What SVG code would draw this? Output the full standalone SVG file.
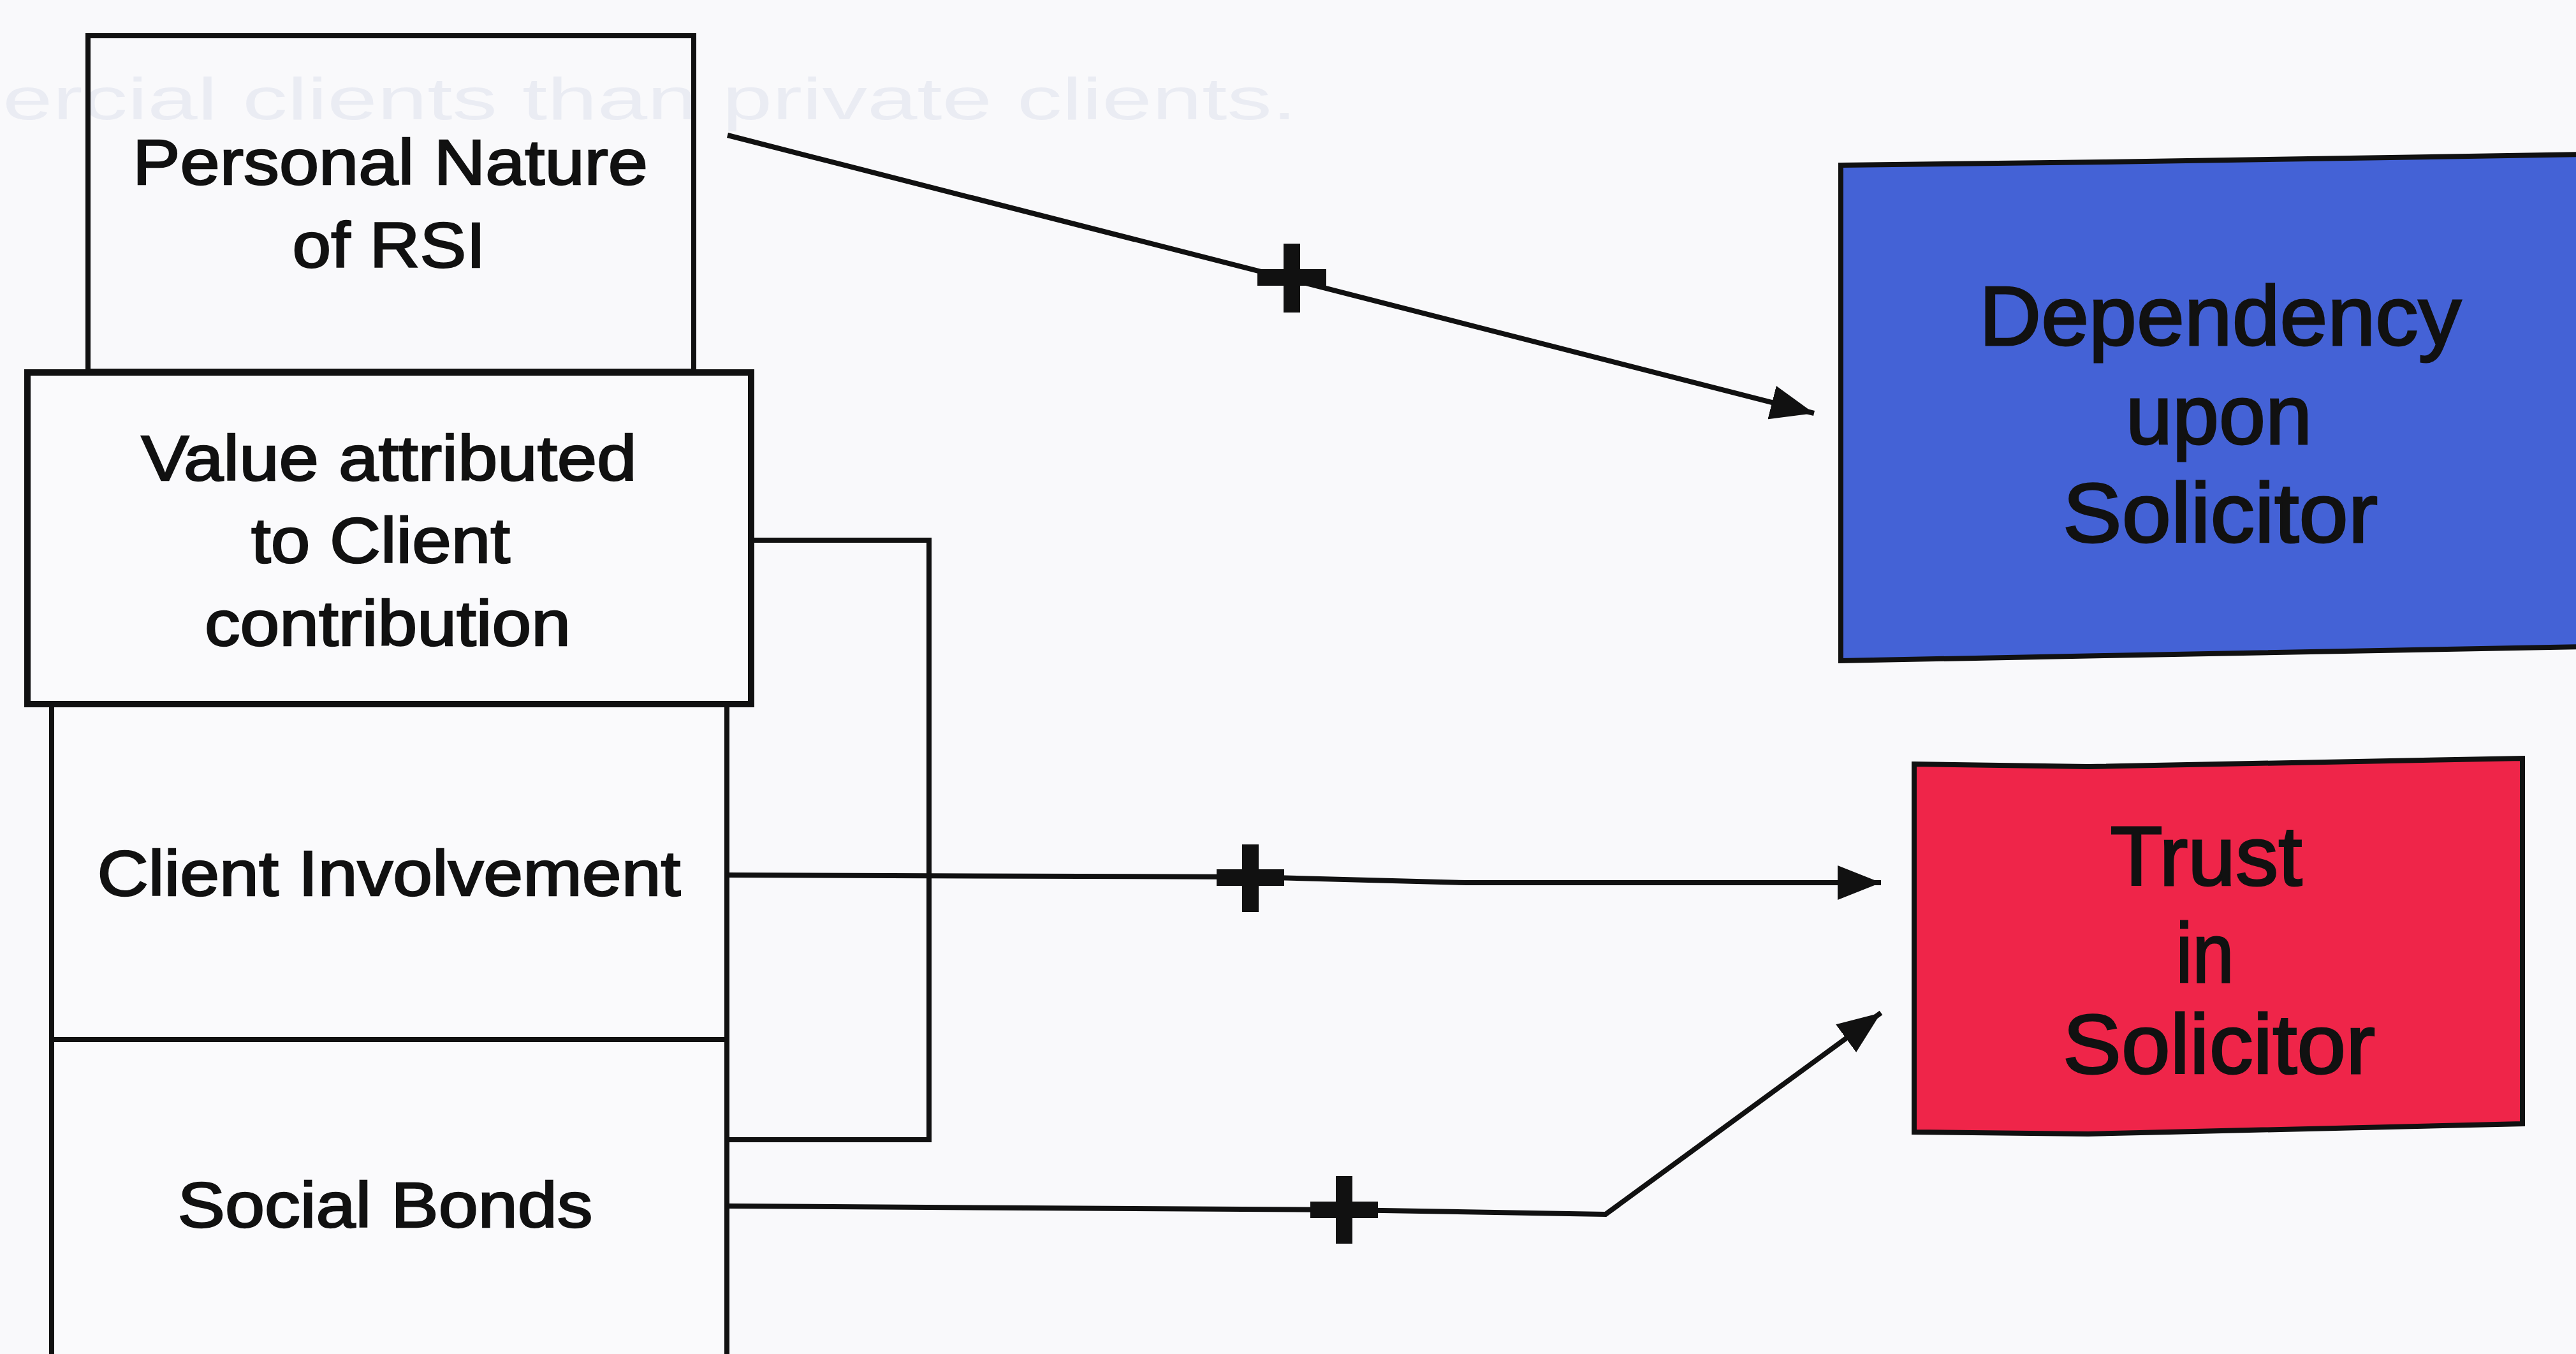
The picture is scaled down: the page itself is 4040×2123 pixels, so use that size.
<svg xmlns="http://www.w3.org/2000/svg" width="4040" height="2123" viewBox="0 0 4040 2123">
<defs>
<marker id="arr" markerUnits="userSpaceOnUse" markerWidth="72" markerHeight="54" refX="68" refY="27" orient="auto">
<path d="M0 0 L68 27 L0 54 Z" fill="#111"/>
</marker>
<style>
.box{fill:#fafafc;stroke:#111;stroke-width:8}
.lt{font-family:"Liberation Sans",Arial,sans-serif;font-size:101px;fill:#111;stroke:#111;stroke-width:2.5;text-anchor:middle}
.rt{font-family:"Liberation Sans",Arial,sans-serif;font-size:132px;fill:#111;stroke:#111;stroke-width:3;text-anchor:middle}
.con{fill:none;stroke:#111;stroke-width:8;stroke-linejoin:miter}
.plus{stroke:#111;stroke-width:26;fill:none}
.ghost{font-family:"Liberation Sans",Arial,sans-serif;font-size:92px;fill:#eaecf3}
</style>
</defs>
<rect x="0" y="0" width="4040" height="2123" fill="#f9f9fb"/>

<text class="ghost" x="4" y="187" textLength="2030" lengthAdjust="spacingAndGlyphs">ercial clients than private clients.</text>

<g id="personal-nature">
<rect class="box" x="138" y="56" width="950" height="526" style="fill:none"/>
<text class="lt" x="612" y="289" textLength="808" lengthAdjust="spacingAndGlyphs">Personal Nature</text>
<text class="lt" x="610" y="419" textLength="303" lengthAdjust="spacingAndGlyphs">of RSI</text>
</g>

<g id="client-involvement">
<rect class="box" x="81" y="1104" width="1059" height="526"/>
<text class="lt" x="610" y="1404" textLength="915" lengthAdjust="spacingAndGlyphs">Client Involvement</text>
</g>

<g id="social-bonds">
<rect class="box" x="81" y="1630" width="1059" height="560"/>
<text class="lt" x="604" y="1924" textLength="651" lengthAdjust="spacingAndGlyphs">Social Bonds</text>
</g>

<g id="value-attributed">
<rect class="box" x="43" y="584" width="1135" height="520" style="stroke-width:10"/>
<text class="lt" x="610" y="753" textLength="777" lengthAdjust="spacingAndGlyphs">Value attributed</text>
<text class="lt" x="597" y="882" textLength="406" lengthAdjust="spacingAndGlyphs">to Client</text>
<text class="lt" x="608" y="1012" textLength="574" lengthAdjust="spacingAndGlyphs">contribution</text>
</g>

<g id="dependency">
<path d="M2887 259 L3300 254 L4060 242 L4060 1014 L3300 1028 L2887 1036 Z" fill="#4462d6" stroke="#111" stroke-width="8"/>
<text class="rt" x="3482" y="541" textLength="756" lengthAdjust="spacingAndGlyphs">Dependency</text>
<text class="rt" x="3480" y="696" textLength="292" lengthAdjust="spacingAndGlyphs">upon</text>
<text class="rt" x="3482" y="850" textLength="494" lengthAdjust="spacingAndGlyphs">Solicitor</text>
</g>

<g id="trust">
<path d="M3002 1198 L3275 1202 L3956 1189 L3956 1762 L3275 1778 L3002 1775 Z" fill="#ef2549" stroke="#111" stroke-width="8"/>
<text class="rt" x="3460" y="1388" textLength="301" lengthAdjust="spacingAndGlyphs">Trust</text>
<text class="rt" x="3458" y="1540" textLength="91" lengthAdjust="spacingAndGlyphs">in</text>
<text class="rt" x="3480" y="1683" textLength="490" lengthAdjust="spacingAndGlyphs">Solicitor</text>
</g>

<g id="connectors">
<path class="con" d="M1178 847 H1457 V1787 H1140"/>
<path class="con" d="M1141 212 L2845 648" marker-end="url(#arr)"/>
<path class="con" d="M1141 1372 L1961 1375 L2300 1384 L2950 1384" marker-end="url(#arr)"/>
<path class="con" d="M1141 1891 L2108 1897 L2518 1904 L2950 1588" marker-end="url(#arr)"/>
<path class="plus" d="M1972 435 H2080 M2026 382 V490"/>
<path class="plus" d="M1908 1376 H2014 M1961 1324 V1430"/>
<path class="plus" d="M2055 1897 H2161 M2108 1844 V1950"/>
</g>
</svg>
